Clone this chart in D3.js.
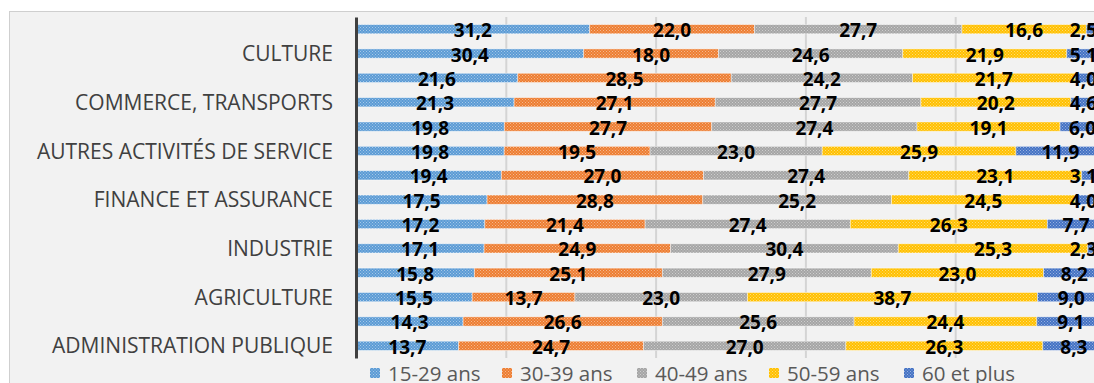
<!DOCTYPE html>
<html>
<head>
<meta charset="utf-8">
<script src="https://cdn.jsdelivr.net/npm/d3@7"></script>
<style>
  html, body { margin: 0; padding: 0; background: #ffffff; }
  svg { display: block; }
</style>
</head>
<body>
<svg id="chart" width="1094" height="383"></svg>
<script>
// Row labels: two bars per sector, the sector name sits on the second bar
const rowLabels = ["", "CULTURE", "", "COMMERCE, TRANSPORTS", "", "AUTRES ACTIVITÉS DE SERVICE",
  "", "FINANCE ET ASSURANCE", "", "INDUSTRIE", "", "AGRICULTURE", "", "ADMINISTRATION PUBLIQUE"];

const seriesNames = ["15-29 ans", "30-39 ans", "40-49 ans", "50-59 ans", "60 et plus"];
const seriesColors = ["#5b9bd5", "#ed7d31", "#a5a5a5", "#ffc000", "#4472c4"];

// Share of each age group (%)
const age1529 = [31.2, 30.4, 21.6, 21.3, 19.8, 19.8, 19.4, 17.5, 17.2, 17.1, 15.8, 15.5, 14.3, 13.7];
const age3039 = [22.0, 18.0, 28.5, 27.1, 27.7, 19.5, 27.0, 28.8, 21.4, 24.9, 25.1, 13.7, 26.6, 24.7];
const age4049 = [27.7, 24.6, 24.2, 27.7, 27.4, 23.0, 27.4, 25.2, 27.4, 30.4, 27.9, 23.0, 25.6, 27.0];
const age5059 = [16.6, 21.9, 21.7, 20.2, 19.1, 25.9, 23.1, 24.5, 26.3, 25.3, 23.0, 38.7, 24.4, 26.3];
const age60 = [2.5, 5.1, 4.0, 4.6, 6.0, 11.9, 3.1, 4.0, 7.7, 2.3, 8.2, 9.0, 9.1, 8.3];

const gridTicks = [0.2, 0.4, 0.6, 0.8, 1.0];

const seriesValues = [age1529, age3039, age4049, age5059, age60];
const rows = rowLabels.map((label, i) => {
  const r = { idx: i, label };
  seriesNames.forEach((s, k) => { r[s] = seriesValues[k][i]; });
  return r;
});

const svg = d3.select("#chart");
const margin = { left: 356, top: 17, plotW: 749, plotH: 341 };
const labelMaxRight = 1097;

// frame of the chart area
svg.append("rect")
  .attr("x", 9.5).attr("y", 11.5)
  .attr("width", 1200).attr("height", 500)
  .attr("fill", "#f2f2f2")
  .attr("stroke", "#cfcfcf")
  .attr("stroke-width", 1);

// textured fills for the bars
const defs = svg.append("defs");
seriesColors.forEach((c, k) => {
  const p = defs.append("pattern")
    .attr("id", "tex" + k)
    .attr("patternUnits", "userSpaceOnUse")
    .attr("width", 3).attr("height", 3);
  p.append("rect").attr("width", 3).attr("height", 3).attr("fill", c);
  const light = d3.interpolateRgb(c, "#ffffff")(0.45);
  p.append("rect").attr("x", 0).attr("y", 0).attr("width", 1).attr("height", 1).attr("fill", light);
  p.append("rect").attr("x", 1.5).attr("y", 1.5).attr("width", 1).attr("height", 1).attr("fill", light);
});

const x = d3.scaleLinear().domain([0, 1]).range([margin.left, margin.left + margin.plotW]);
const y = d3.scaleBand().domain(rows.map(d => d.idx))
  .range([margin.top, margin.top + margin.plotH])
  .paddingInner(0.62).paddingOuter(0.31);

// vertical gridlines
const grid = svg.append("g")
  .attr("transform", `translate(0,${margin.top})`)
  .call(d3.axisBottom(x).tickValues(gridTicks).tickSize(margin.plotH).tickFormat(""));
grid.select(".domain").remove();
grid.selectAll(".tick line").attr("stroke", "#d4d4d4").attr("stroke-width", 2);

// stacked bars normalised to 100 %
const stack = d3.stack().keys(seriesNames).offset(d3.stackOffsetExpand);
const layers = stack(rows);

const fr = d3.formatLocale({ decimal: ",", thousands: " ", grouping: [3], currency: ["", " €"] });
const fmt = fr.format(".1f");

const layerG = svg.append("g").selectAll("g")
  .data(layers).join("g")
  .attr("fill", (d, k) => `url(#tex${k})`);

layerG.selectAll("rect")
  .data(d => d)
  .join("rect")
  .attr("x", d => x(d[0]))
  .attr("y", d => y(d.data.idx))
  .attr("width", d => x(d[1]) - x(d[0]))
  .attr("height", y.bandwidth())
  .attr("stroke", "#ffffff")
  .attr("stroke-opacity", 0.55)
  .attr("stroke-width", 0.8);

// value labels centred on each segment, kept inside the chart's right edge
const labelG = svg.append("g");
layers.forEach((layer) => {
  labelG.selectAll(null)
    .data(layer)
    .join("text")
    .attr("y", d => y(d.data.idx) + y.bandwidth() / 2 + 8)
    .attr("text-anchor", "middle")
    .attr("font-family", "'Open Sans', sans-serif")
    .attr("font-weight", "bold")
    .attr("font-size", 19)
    .attr("fill", "#000000")
    .text(d => fmt(d.data[layer.key]))
    .attr("x", function (d) {
      const cx = (x(d[0]) + x(d[1])) / 2;
      const half = this.getComputedTextLength() / 2;
      return Math.min(cx, labelMaxRight - half);
    });
});

// category axis
const yAxis = svg.append("g")
  .attr("transform", `translate(${margin.left},0)`)
  .call(d3.axisLeft(y).tickSize(0).tickPadding(23).tickSizeOuter(0).tickFormat(i => rowLabels[i]));
yAxis.select(".domain").attr("stroke", "#404040").attr("stroke-width", 3);
yAxis.selectAll(".tick text")
  .attr("font-family", "'Open Sans', sans-serif")
  .attr("font-size", 21)
  .attr("fill", "#404040")
  .attr("dy", "0.36em");

// legend
const legendX = [370, 502, 637, 769, 904];
const legend = svg.append("g").selectAll("g")
  .data(seriesNames).join("g")
  .attr("transform", (d, k) => `translate(${legendX[k]},368)`);
legend.append("rect")
  .attr("width", 10).attr("height", 10)
  .attr("fill", (d, k) => `url(#tex${k})`);
legend.append("text")
  .attr("x", 18).attr("y", 12.5)
  .attr("font-family", "'Open Sans', sans-serif")
  .attr("font-size", 20.5)
  .attr("fill", "#595959")
  .text(d => d);
</script>
</body>
</html>
